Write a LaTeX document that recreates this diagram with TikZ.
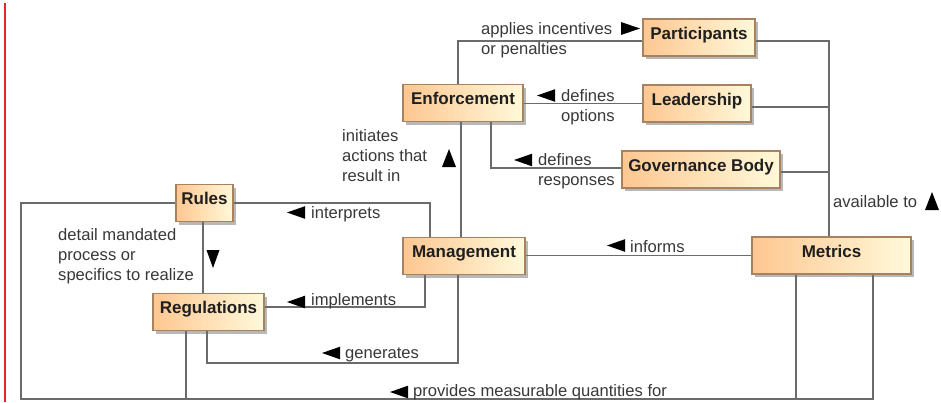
\documentclass[tikz,border=0pt]{standalone}
\usepackage{fontspec}
\setmainfont{Liberation Sans}
\usetikzlibrary{shadows}

\definecolor{boxL}{HTML}{FDC791}
\definecolor{boxR}{HTML}{FFF9DA}
\definecolor{boxrim}{HTML}{A8825E}
\definecolor{wiregray}{HTML}{6B6B6B}
\definecolor{labelgray}{HTML}{383838}
\definecolor{marginred}{HTML}{E3262B}

\tikzset{
  block/.style={draw=boxrim, line width=1.1pt, left color=boxL, right color=boxR,
    inner xsep=0pt, inner ysep=0pt, minimum height=37pt,
    text height=20pt, text depth=17pt, text=black!88,
    font=\fontsize{17}{20}\selectfont\bfseries,
    general shadow={fill=black!28, shadow xshift=3pt, shadow yshift=-3pt}},
  wire/.style={draw=wiregray, line width=1.2pt},
  % multi-line tags sit on the baseline of their last line
  tag/.style={font=\fontsize{16.6}{20}\selectfont, text=labelgray,
    inner sep=0pt, align=left, anchor=base west},
  wedgeW/.pic={\fill (0,0) -- (18,-6.3) -- (18,6.3) -- cycle;},
  wedgeE/.pic={\fill (0,0) -- (-19,-6.5) -- (-19,6.5) -- cycle;},
  wedgeN/.pic={\fill (0,0) -- (7,18) -- (-7,18) -- cycle;},
  wedgeS/.pic={\fill (0,0) -- (6.5,-18) -- (-6.5,-18) -- cycle;},
}

\begin{document}
\begin{tikzpicture}[x=1pt,y=-1pt]
\useasboundingbox (0,0) rectangle (941,402);

% page margin rule
\draw[marginred, line width=1.5pt] (5,3) -- (5,402);

% blocks
\node[block, minimum width=112pt] (Participants) at (699,37.5) {Participants};
\node[block, minimum width=108pt] (Leadership)   at (697,103.5) {Leadership};
\node[block, minimum width=158pt] (Governance)   at (701,169.5) {Governance Body};
\node[block, minimum width=120pt] (Enforcement)  at (463,103) {Enforcement};
\node[block, minimum width=57pt]  (Rules)        at (204.5,203) {Rules};
\node[block, minimum width=111pt] (Regulations)  at (208.5,312) {Regulations};
\node[block, minimum width=122pt] (Management)   at (464,256) {Management};
\node[block, minimum width=159pt] (Metrics)      at (831.5,255.5) {Metrics};

% routing points
\coordinate (sw) at (21,399);
\coordinate (enfA) at ([xshift=-5pt]Enforcement.north);
\coordinate (enfB) at ([xshift=28pt]Enforcement.south);
\coordinate (enfC) at ([xshift=-2pt]Enforcement.south);
\coordinate (metTop) at ([xshift=-2.5pt]Metrics.north);
\coordinate (metA) at ([xshift=-35.5pt]Metrics.south);
\coordinate (metB) at ([xshift=41.5pt]Metrics.south);
\coordinate (rulFoot) at ([xshift=-1.5pt]Rules.south);
\coordinate (mgtA) at ([xshift=-39pt]Management.south);
\coordinate (mgtB) at ([xshift=-6pt]Management.south);
\coordinate (mgtTop) at ([xshift=-34pt]Management.north);
\coordinate (regA) at ([xshift=-1.5pt]Regulations.south);
\coordinate (regB) at ([xshift=-22.5pt]Regulations.south);

% connectors
\draw[wire] (enfA) |- ([yshift=-3.5pt]Participants.west);
\draw[wire] (Leadership.west) -- (Enforcement.east |- Leadership.west);
\draw[wire] (enfB) |- ([yshift=1.5pt]Governance.west);
\draw[wire] ([yshift=-3.5pt]Participants.east) -| (metTop);
\draw[wire] ([yshift=-3.5pt]Leadership.east) -| (metTop);
\draw[wire] ([yshift=-2.5pt]Governance.east) -| (metTop);
\draw[wire] (enfC) -- (enfC |- Management.north);
\draw[wire] (Rules.east) -| (mgtTop);
\draw[wire] (rulFoot) -- (rulFoot |- Regulations.north);
\draw[wire] (mgtA) |- ([yshift=5pt]Regulations.east);
\draw[wire] (mgtB) -- ++(0,88) -| (regA);
\draw[wire] (metA) |- (sw) |- (Rules.west);
\draw[wire] (metB) |- (regB |- sw) -- (regB);
\draw[wire] (Metrics.west) -- (Management.east |- Metrics.west);

% connector labels
\node[tag] (tPart) at (481,54) {applies incentives\\or penalties};
\pic at (640,28.5) {wedgeE};
\node[tag] (tLead) at (561,121) {defines\\options};
\pic at (537,95.5) {wedgeW};
\node[tag] (tGov) at (538,185) {defines\\responses};
\pic at (514,160) {wedgeW};
\node[tag] (tAvail) at (833,207) {available to};
\pic at (932,192) {wedgeN};
\node[tag] (tInit) at (342,181) {initiates\\actions that\\result in};
\pic at (449,149) {wedgeN};
\node[tag] (tInterp) at (311,218) {interprets};
\pic at (287,212.5) {wedgeW};
\node[tag] (tDetail) at (58,280) {detail mandated\\process or\\specifics to realize};
\pic at (213,268) {wedgeS};
\node[tag] (tImpl) at (311,305) {implements};
\pic at (287,302) {wedgeW};
\node[tag] (tGen) at (345,358) {generates};
\pic at (322,353) {wedgeW};
\node[tag] (tProv) at (413,396) {provides measurable quantities for};
\pic at (390,392) {wedgeW};
\node[tag] (tInf) at (630,252) {informs};
\pic at (607,245.5) {wedgeW};
\end{tikzpicture}
\end{document}
